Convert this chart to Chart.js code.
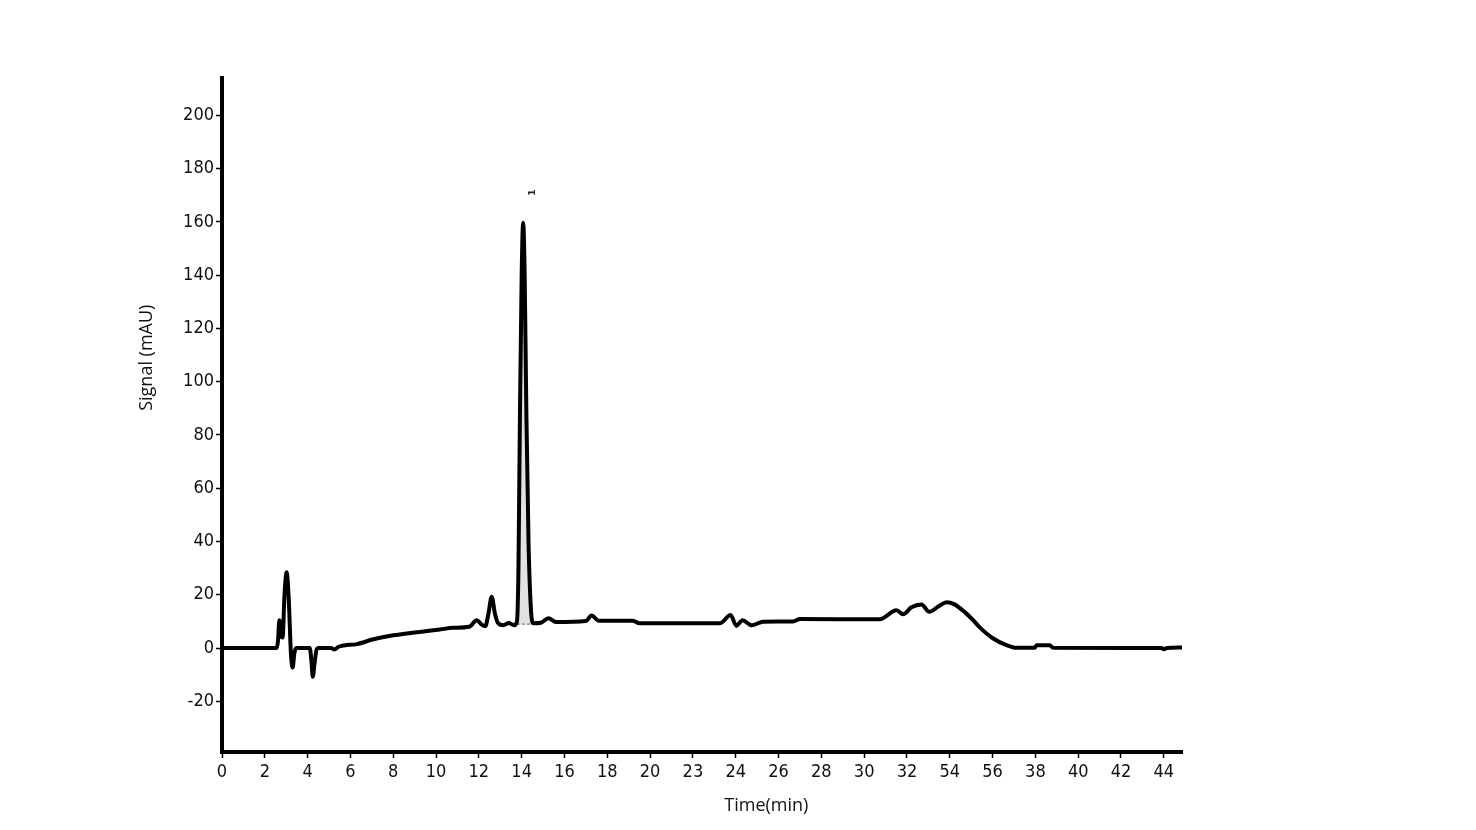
<!DOCTYPE html>
<html>
<head>
<meta charset="UTF-8">
<title>Chromatogram</title>
<script src="https://cdn.jsdelivr.net/npm/chart.js"></script>
<style>
body { margin: 0; background: #fff; }
</style>
</head>
<body>
<canvas id="myChart" width="1476" height="830"></canvas>
<script>
// retention time (min) and detector signal (mAU)
const time = [0, 2.55, 2.62, 2.68, 2.76, 2.83, 2.92, 3.02, 3.12, 3.22, 3.30, 3.38, 3.46,
	4.10, 4.18, 4.24, 4.32, 4.42, 4.50, 5.10, 5.25, 5.45, 5.70, 6.30, 7.07, 8.00, 8.63,
	9.50, 10.18, 10.80, 11.55, 11.90, 12.15, 12.30, 12.45, 12.60, 12.75, 12.88, 13.14,
	13.40, 13.65, 13.78, 13.85, 13.92, 14.00, 14.07, 14.14, 14.22, 14.32, 14.43, 14.54,
	14.90, 15.25, 15.60, 17.00, 17.27, 17.60, 19.20, 19.50, 23.26, 23.76, 24.03, 24.32,
	24.74, 25.28, 26.68, 27.00, 30.73, 31.51, 31.82, 32.21, 32.68, 33.04, 33.50, 33.85,
	34.20, 34.70, 35.09, 35.40, 36.03, 36.65, 37.12, 37.97, 38.05, 38.67, 38.83, 43.90,
	44.00, 44.15, 44.85];
const signal = [0, 0, 3, 10.5, 5, 4, 20, 28.5, 18, -2, -7.3, -2, 0,
	0, -5, -10.8, -6, -0.5, 0, 0, -0.5, 0.5, 1.0, 1.5, 3.3, 4.8, 5.5,
	6.3, 7.0, 7.6, 8.0, 10.5, 8.7, 8.2, 13, 19.3, 13, 9.6, 8.6,
	9.4, 8.6, 10, 30, 88, 140, 159.7, 140, 88, 40, 15, 9.3,
	9.5, 11.2, 9.8, 10.2, 12.2, 10.3, 10.3, 9.3, 9.3, 12.4, 8.4, 10.5,
	8.6, 9.9, 10.0, 10.9, 10.8, 14.2, 12.7, 15.3, 16.4, 13.6, 15.8, 17.2,
	16.5, 13.5, 10.5, 7.8, 3.6, 1.1, 0.1, 0.1, 1.1, 1.1, 0.1, 0,
	-0.4, 0, 0.2];

// integrated peak 1
const peakStart = 13.78, peakEnd = 14.54, peakBase = 9;
const peakLabel = '1';

// tick labels as printed on the original axis
const xTickLabels = ['0','2','4','6','8','10','12','14','16','18','20','23','24',
	'26','28','30','32','54','56','38','40','42','44'];
const yTicks = [-20, 0, 20, 40, 60, 80, 100, 120, 140, 160, 180, 200];

const xTitle = 'Time(min)';
const yTitle = 'Signal (mAU)';

const mainData = time.map((t, i) => ({x: t, y: signal[i]}));
const peakData = mainData.filter(p => p.x >= peakStart && p.x <= peakEnd);
const baseData = [{x: peakStart, y: peakBase}, {x: peakEnd, y: peakBase}];

const tickFont = {family: "'Liberation Sans Narrow', 'DejaVu Sans Condensed', sans-serif", size: 18};

// titles + peak number drawn by hand so they sit where the original has them
const textPlugin = {
	id: 'textPlugin',
	afterDraw(chart) {
		const ctx = chart.ctx;
		const a = chart.chartArea;
		const xs = chart.scales.x, ys = chart.scales.y;
		ctx.save();
		ctx.fillStyle = '#111';
		ctx.font = "18px 'Open Sans', sans-serif";
		ctx.textAlign = 'center';
		ctx.textBaseline = 'middle';
		ctx.fillText(xTitle, a.left + (a.right - a.left) * 0.567, 806);
		ctx.translate(147, a.top + (a.bottom - a.top) * 0.415);
		ctx.rotate(-Math.PI / 2);
		ctx.fillText(yTitle, 0, 0);
		ctx.restore();

		ctx.save();
		ctx.fillStyle = '#222';
		ctx.font = "bold 9px 'DejaVu Sans', sans-serif";
		ctx.textAlign = 'center';
		ctx.textBaseline = 'middle';
		ctx.translate(xs.getPixelForValue(peakEnd - 0.01), ys.getPixelForValue(171));
		ctx.rotate(-Math.PI / 2);
		ctx.fillText(peakLabel, 0, 0);
		ctx.restore();
	}
};

const ctx = document.getElementById('myChart').getContext('2d');
const myChart = new Chart(ctx, {
	type: 'line',
	data: {
		datasets: [{
			label: 'signal',
			data: mainData,
			borderColor: '#000',
			borderWidth: 4,
			borderJoinStyle: 'round',
			borderCapStyle: 'round',
			pointRadius: 0,
			cubicInterpolationMode: 'monotone',
			fill: false,
			order: 0
		}, {
			label: 'peak area',
			data: peakData,
			borderWidth: 0,
			pointRadius: 0,
			backgroundColor: '#e2e2e2',
			cubicInterpolationMode: 'monotone',
			fill: {value: peakBase},
			order: 2
		}, {
			label: 'peak base',
			data: baseData,
			borderColor: '#666',
			borderWidth: 1,
			borderDash: [3, 2],
			pointRadius: 0,
			fill: false,
			order: 1
		}]
	},
	options: {
		responsive: false,
		animation: false,
		layout: {padding: {left: 0, right: 294, top: 78, bottom: 0}},
		plugins: {
			legend: {display: false},
			tooltip: {enabled: false}
		},
		scales: {
			x: {
				type: 'linear',
				min: 0,
				max: 44.85,
				afterBuildTicks: s => { s.ticks = xTickLabels.map((l, i) => ({value: i * 2})); },
				afterFit: s => { s.height = 78; },
				ticks: {
					font: tickFont,
					color: '#111',
					padding: 4,
					maxRotation: 0,
					autoSkip: false,
					callback: v => xTickLabels[Math.round(v / 2)]
				},
				grid: {drawOnChartArea: false, drawTicks: true, tickLength: 6, tickColor: '#000', tickWidth: 1.5},
				border: {color: '#000', width: 4}
			},
			y: {
				min: -39,
				max: 214,
				afterBuildTicks: s => { s.ticks = yTicks.map(v => ({value: v})); },
				afterFit: s => { s.width = 222; },
				ticks: {
					font: tickFont,
					color: '#111',
					padding: 2
				},
				grid: {drawOnChartArea: false, drawTicks: true, tickLength: 6, tickColor: '#000', tickWidth: 1.5},
				border: {color: '#000', width: 4}
			}
		}
	},
	plugins: [textPlugin]
}); // chart
</script>
</body>
</html>
